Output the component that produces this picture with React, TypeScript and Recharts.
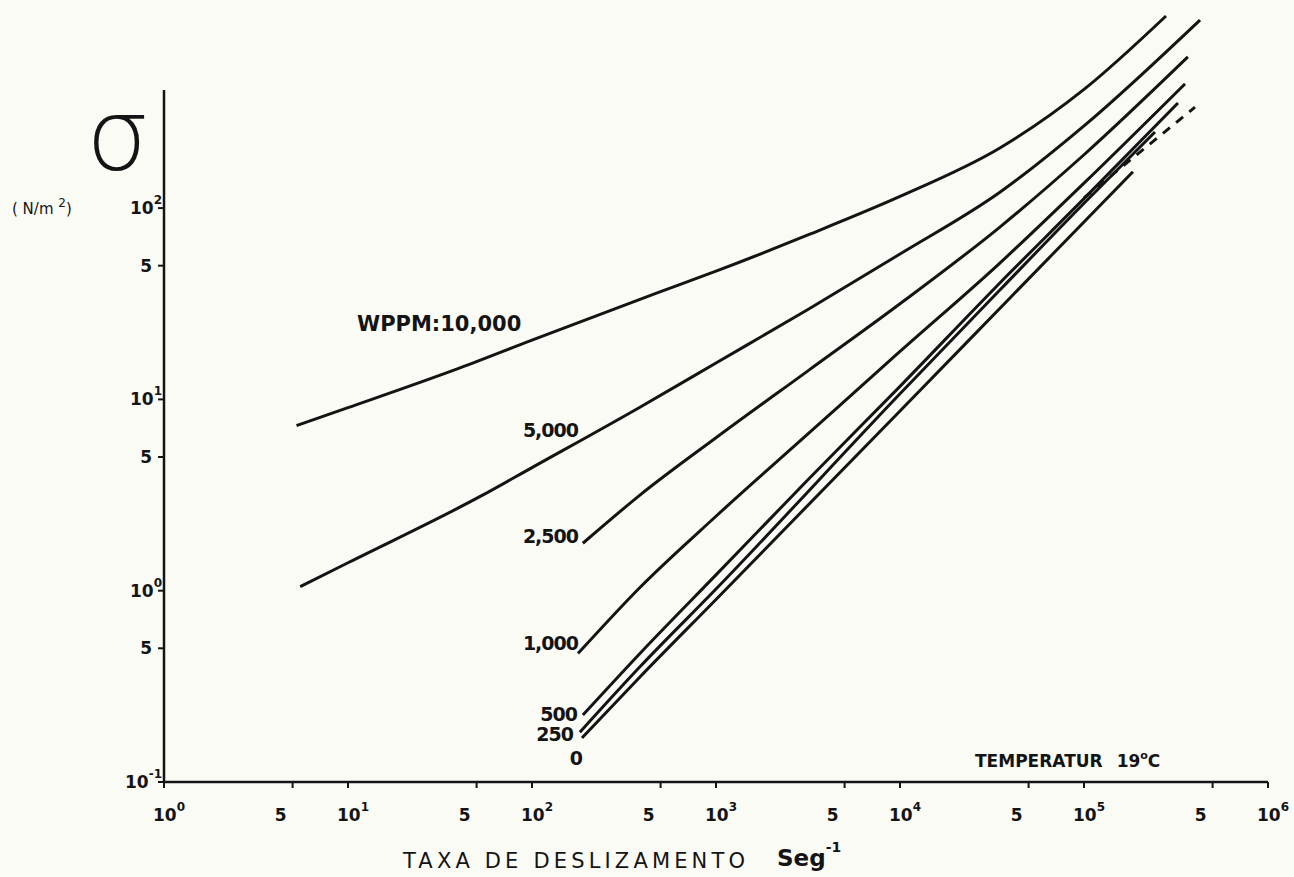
import React from 'react';
import { LineChart, Line, XAxis, YAxis, ReferenceLine, Customized } from 'recharts';

// shear rate (1/s) and shear stress (N/m2), one pair of arrays per WPPM curve
const rate10000 = [5.25, 10, 40.6, 100, 479, 1000, 3160, 10000, 34900, 100000, 279000];
const stress10000 = [7.3, 9.05, 14.6, 20.4, 36, 46.8, 72.4, 115, 206, 417, 1009];

const rate5000 = [5.5, 10, 52, 100, 386, 1000, 3160, 10000, 34900, 100000, 427000];
const stress5000 = [1.05, 1.4, 3.1, 4.4, 9.1, 15.5, 29.5, 57.5, 121, 269, 962];

const rate2500 = [189, 386, 1000, 3160, 10000, 34900, 100000, 367000];
const stress2500 = [1.77, 3.16, 6.3, 14.1, 31.6, 79.6, 190, 617];

const rate1000 = [178, 386, 1000, 3160, 10000, 34900, 100000, 354000];
const stress1000 = [0.47, 1.04, 2.45, 6.6, 17.8, 51.6, 135, 446];

const rate500 = [189, 386, 1000, 3160, 10000, 34900, 100000, 324000];
const stress500 = [0.224, 0.47, 1.21, 3.8, 11.7, 40.6, 112, 354];

const rate250 = [182, 386, 1000, 10000, 34900, 100000, 243000];
const stress250 = [0.182, 0.4, 1.02, 10.7, 37.3, 106, 250];

const rate0 = [187, 386, 1000, 10000, 39600, 184500];
const stress0 = [0.17, 0.354, 0.9, 8.7, 33.9, 155];

// dashed extension at the top of the low-concentration bundle
const rateDash = [100000, 401000];
const stressDash = [113, 337];

const xTicks = [1, 5, 10, 50, 100, 500, 1000, 5000, 10000, 50000, 100000, 500000, 1000000];
const yTicks = [0.1, 0.5, 1, 5, 10, 50, 100];

const zip = (xs: number[], ys: number[]) => xs.map((x, i) => ({ x, y: ys[i] }));

const curves = [
  { key: 'w10000', data: zip(rate10000, stress10000) },
  { key: 'w5000', data: zip(rate5000, stress5000) },
  { key: 'w2500', data: zip(rate2500, stress2500) },
  { key: 'w1000', data: zip(rate1000, stress1000) },
  { key: 'w500', data: zip(rate500, stress500) },
  { key: 'w250', data: zip(rate250, stress250) },
  { key: 'w0', data: zip(rate0, stress0) },
];

const INK = '#141414';
const FONT = '"DejaVu Sans", Arial, sans-serif';

const isPower = (v: number) => Math.abs(Math.log10(v) - Math.round(Math.log10(v))) < 1e-6;

const XTick = ({ x, y, payload }: any) => {
  const v = payload.value;
  if (isPower(v)) {
    return (
      <text x={x - 11} y={y + 31} fill={INK} fontFamily={FONT} fontWeight="bold" fontSize={17}>
        10<tspan dy={-10} fontSize={12}>{Math.round(Math.log10(v))}</tspan>
      </text>
    );
  }
  return (
    <text x={x - 12} y={y + 31} fill={INK} fontFamily={FONT} fontWeight="bold" fontSize={17} textAnchor="middle">
      5
    </text>
  );
};

const YTick = ({ x, y, payload }: any) => {
  const v = payload.value;
  if (isPower(v)) {
    return (
      <text x={x + 6} y={y + 6} fill={INK} fontFamily={FONT} fontWeight="bold" fontSize={17} textAnchor="end">
        10<tspan dy={-10} fontSize={12}>{Math.round(Math.log10(v))}</tspan>
      </text>
    );
  }
  return (
    <text x={x - 4} y={y + 6} fill={INK} fontFamily={FONT} fontWeight="bold" fontSize={17} textAnchor="end">
      5
    </text>
  );
};

const Annotations = () => (
  <g fill={INK} fontFamily={FONT}>
    <text x={86} y={170} fontSize={100} fontWeight={200}>σ</text>
    <text x={12} y={214} fontSize={15}>
      ( N/m <tspan dy={-7} fontSize={12}>2</tspan><tspan dy={7}>)</tspan>
    </text>
    <text x={357} y={331} fontSize={21} fontWeight="bold">WPPM:10,000</text>
    <g fontSize={19} fontWeight="bold" textAnchor="end" letterSpacing={-1}>
      <text x={578} y={437}>5,000</text>
      <text x={578} y={543}>2,500</text>
      <text x={578} y={650}>1,000</text>
      <text x={577} y={721}>500</text>
      <text x={573} y={741}>250</text>
      <text x={582} y={765}>0</text>
    </g>
    <text x={975} y={767} fontSize={17} fontWeight="bold">
      TEMPERATUR<tspan dx={14}>19</tspan><tspan dy={-8} fontSize={11}>o</tspan><tspan dy={8}>C</tspan>
    </text>
    <text x={403} y={868} fontSize={21} textLength={342} lengthAdjust="spacing">
      TAXA DE DESLIZAMENTO
    </text>
    <text x={777} y={866} fontSize={23} fontWeight="bold">
      Seg<tspan dy={-14} fontSize={14}>-1</tspan>
    </text>
  </g>
);

export default function App() {
  return (
    <div style={{ position: 'absolute', left: 0, top: 0, width: 1294, height: 877, background: '#fbfbf6' }}>
      <LineChart width={1294} height={877} margin={{ top: 10, right: 26, bottom: 0, left: 104 }}>
        <XAxis
          dataKey="x"
          type="number"
          scale="log"
          domain={[1, 1000000]}
          ticks={xTicks}
          tick={<XTick />}
          tickSize={6}
          height={95}
          interval={0}
          axisLine={{ stroke: INK, strokeWidth: 2.5 }}
          tickLine={{ stroke: INK, strokeWidth: 2 }}
          allowDataOverflow
        />
        <YAxis
          type="number"
          scale="log"
          domain={[0.1, 1085]}
          ticks={yTicks}
          tick={<YTick />}
          tickSize={6}
          width={60}
          interval={0}
          axisLine={false}
          tickLine={{ stroke: INK, strokeWidth: 2 }}
          allowDataOverflow
        />
        <ReferenceLine
          segment={[{ x: 1, y: 0.1 }, { x: 1, y: 414 }]}
          stroke={INK}
          strokeWidth={2.5}
          ifOverflow="visible"
        />
        {curves.map((c) => (
          <Line
            key={c.key}
            data={c.data}
            dataKey="y"
            type="monotone"
            stroke={INK}
            strokeWidth={3}
            dot={false}
            isAnimationActive={false}
          />
        ))}
        <Line
          data={zip(rateDash, stressDash)}
          dataKey="y"
          type="linear"
          stroke={INK}
          strokeWidth={3}
          strokeDasharray="9 8"
          dot={false}
          isAnimationActive={false}
        />
        <Customized component={Annotations} />
      </LineChart>
    </div>
  );
}
